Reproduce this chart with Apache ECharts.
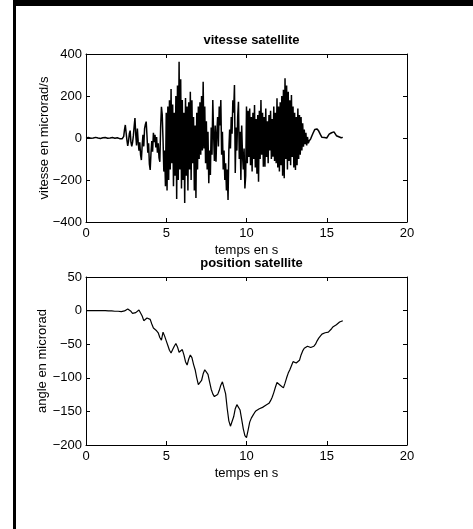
<!DOCTYPE html>
<html>
<head>
<meta charset="utf-8">
<script src="https://cdn.jsdelivr.net/npm/echarts@6/dist/echarts.min.js"></script>
<style>
html,body{margin:0;padding:0;background:#fff;}
#chart{width:473px;height:529px;}
</style>
</head>
<body>
<div id="chart"></div>
<script>
// ---- data ----
const xTicks = [0, 5, 10, 15, 20];
const vitesseTicks = [-400, -200, 0, 200, 400];
const positionTicks = [-200, -150, -100, -50, 0, 50];

// vitesse satellite (microrad/s), sampled every 0.05 s from t = 0 to t = 16
const vitessePas = 0.05;
const vitesseValeurs = [
  0, 1, 2, 2, 1, 0, -1, -2, -1, 0, 1, 2, 3, 2, 1, 0, -1, -2, -2, -1,
  0, 1, 2, 3, 2, 1, 0, -1, -2, -1, 0, 1, 2, 2, 1, 0, -1, -1, 0, 1,
  0, -1, -3, -2, 0, -4, -2, 8, 40, 62, 25, -10, -38, -15, 20, 35, -20, -40, -22, 10,
  55, 95, 15, -35, 45, -15, -60, -20, -80, -105, -35, 15, -40, 45, 65, 78, 10, -70, -25, -125,
  -152, -70, -15, -65, 25, -20, 15, -45, 5, -70, -25, -95, -113, 50, 149, 110, -10, -160, -60, -230,
  120, -250, 150, -200, 180, -150, 233, -120, 160, -230, 120, -180, 200, -290, 250, -200, 363, -150, 280, -240,
  181, -200, 120, -310, 190, -180, 150, -250, 170, -150, 220, -200, 180, -120, 100, -250, 60, -286, 120, -150,
  150, -100, 170, -80, 200, -60, 268, -50, 150, -120, 80, -150, 30, -215, -60, -176, 50, -80, 181, 20,
  -110, 60, -113, 20, 100, -40, 150, 60, 181, -80, 30, -150, -60, -200, -120, -250, -150, -295, -60, 40,
  -50, 100, 20, 180, 120, 252, -167, 50, -60, 100, 173, -100, 30, -200, 60, -80, -150, -50, -240, -180,
  150, -120, 130, -90, 140, -130, 100, -160, 120, -100, 157, -140, 90, -170, 110, -208, 130, -100, 181, -80,
  120, -137, 100, -137, 140, -90, 80, -120, 110, -60, 130, -100, 90, -89, 150, -110, 120, -120, 189, -140,
  150, -160, 170, -130, 200, -180, 230, -192, 284, -100, 250, -150, 220, -110, 180, -130, 205, -90, 150, -140,
  120, -152, 100, -130, 141, -100, 110, -80, 100, -60, 70, -41, 40, -30, 25, -35, 5, -25, -14, -8,
  -4, 6, 12, 24, 28, 40, 41, 48, 43, 44, 33, 30, 17, 14, 3, 4, -3, 2, -2, 3,
  0, 8, 8, 18, 18, 27, 25, 31, 26, 29, 20, 20, 11, 11, 4, 6, 0, 4, 1, 4,
  3
];

// position satellite (microrad), sampled every 0.1 s from t = 0 to t = 16
const positionPas = 0.1;
const positionValeurs = [
  0, 0, 0, 0, 0, 0, 0, 0, 0, 0,
  0, 0, 0, -0.5, -0.5, -0.5, -0.5, -1, -1, -1,
  -1, -1, -1.5, -1.5, -0.5, 1.5, 2.5, 1.5, -1, -4,
  -5, -3, -1, 1, 0, -8, -15, -14, -11, -9.5,
  -13, -20, -26, -28, -30, -33, -40, -44, -32, -38,
  -45, -52, -59, -63, -58, -53, -49, -54, -62, -60,
  -58, -66, -76, -81, -72, -66, -70, -80, -88, -100,
  -110, -112, -104, -94, -88, -88, -95, -106, -117, -124,
  -128, -129, -125, -119, -111, -106, -108, -124, -146, -164,
  -172, -170, -158, -146, -140, -140, -148, -162, -176, -186,
  -189, -178, -166, -160, -156, -152, -149, -151, -146, -148,
  -144, -146, -141, -143, -138, -134, -129, -122, -114, -107,
  -108, -111, -113, -115, -108, -100, -93, -88, -82, -76,
  -75, -78, -78, -74, -66, -60, -56, -54, -53, -54,
  -55, -55, -53, -50, -45, -41, -38, -35, -34, -33,
  -33, -32, -30, -27, -24, -22, -21, -19, -17, -16,
  -15
];

// ---- build ----
const vitesseData = vitesseValeurs.map((v, i) => [+(i * vitessePas).toFixed(2), v]);
const positionData = positionValeurs.map((v, i) => [+(i * positionPas).toFixed(2), v]);

const FONT = '"Liberation Sans", Arial, Helvetica, sans-serif';
const fmt = v => String(v).replace('-', '\u2212');

function axX(gi, top, showName) {
  return {
    type: 'value', gridIndex: gi, position: top ? 'top' : 'bottom',
    min: xTicks[0], max: xTicks[xTicks.length - 1], interval: 5,
    name: showName ? 'temps en s' : '', nameLocation: 'middle', nameGap: 22,
    nameMoveOverlap: false,
    nameTextStyle: { fontFamily: FONT, fontSize: 13, color: '#000' },
    axisLine: { show: true, onZero: false, lineStyle: { color: '#000', width: 1 } },
    axisTick: { show: true, inside: true, length: 4, lineStyle: { color: '#000' } },
    axisLabel: { show: !top, margin: 5, fontFamily: FONT, fontSize: 13, color: '#000', formatter: fmt },
    splitLine: { show: false }
  };
}
function axY(gi, right, ticks, name, gap) {
  return {
    type: 'value', gridIndex: gi, position: right ? 'right' : 'left',
    min: ticks[0], max: ticks[ticks.length - 1], interval: ticks[1] - ticks[0],
    name: right ? '' : name, nameLocation: 'middle', nameGap: gap, nameRotate: 90,
    nameMoveOverlap: false,
    nameTextStyle: { fontFamily: FONT, fontSize: 13, color: '#000' },
    axisLine: { show: true, onZero: false, lineStyle: { color: '#000', width: 1 } },
    axisTick: { show: true, inside: true, length: 4, lineStyle: { color: '#000' } },
    axisLabel: { show: !right, margin: 4, fontFamily: FONT, fontSize: 13, color: '#000', formatter: fmt },
    splitLine: { show: false }
  };
}

const chart = echarts.init(document.getElementById('chart'), null, { renderer: 'canvas' });
chart.setOption({
  animation: false,
  backgroundColor: '#fff',
  title: [
    { text: 'vitesse satellite', left: 246.5, top: 29, textAlign: 'center',
      textStyle: { fontFamily: FONT, fontSize: 13, fontWeight: 'bold', color: '#000' } },
    { text: 'position satellite', left: 246.5, top: 252, textAlign: 'center',
      textStyle: { fontFamily: FONT, fontSize: 13, fontWeight: 'bold', color: '#000' } }
  ],
  graphic: [
    { type: 'rect', shape: { x: 13, y: 0, width: 460, height: 6 }, style: { fill: '#000' } },
    { type: 'rect', shape: { x: 13, y: 0, width: 3, height: 529 }, style: { fill: '#000' } }
  ],
  grid: [
    { left: 86, top: 54, width: 321, height: 168 },
    { left: 86, top: 277, width: 321, height: 168 }
  ],
  xAxis: [axX(0, false, true), axX(0, true, false), axX(1, false, true), axX(1, true, false)],
  yAxis: [
    axY(0, false, vitesseTicks, 'vitesse en microrad/s', 35),
    axY(0, true, vitesseTicks, '', 0),
    axY(1, false, positionTicks, 'angle en microrad', 37),
    axY(1, true, positionTicks, '', 0)
  ],
  series: [
    { type: 'line', xAxisIndex: 0, yAxisIndex: 0, data: vitesseData, showSymbol: false,
      lineStyle: { color: '#000', width: 1.5 }, itemStyle: { color: '#000' } },
    { type: 'line', xAxisIndex: 2, yAxisIndex: 2, data: positionData, showSymbol: false,
      lineStyle: { color: '#000', width: 1.2 }, itemStyle: { color: '#000' } }
  ]
});
</script>
</body>
</html>
